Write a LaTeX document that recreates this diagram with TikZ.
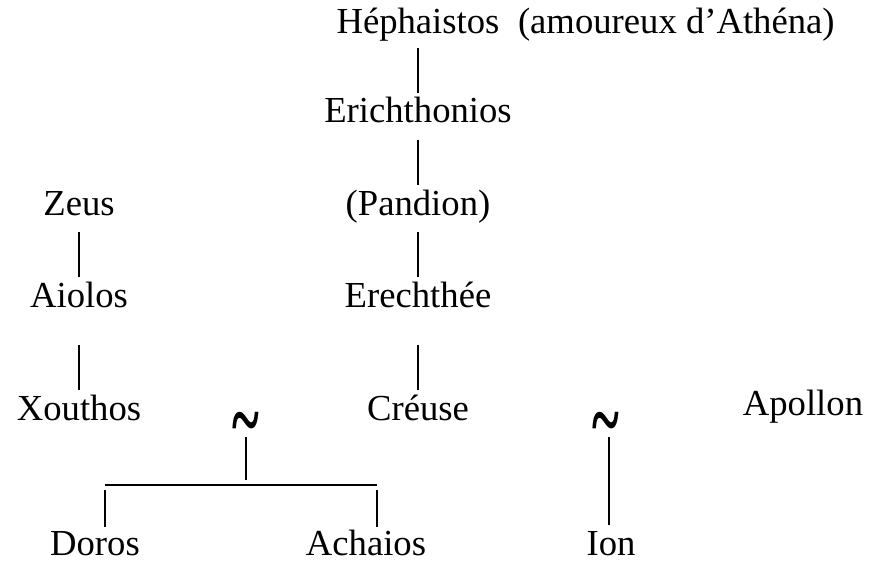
\documentclass[tikz,border=0pt]{standalone}
\usepackage{fontspec}
\setmainfont{Liberation Serif}
\usetikzlibrary{positioning}

\tikzstyle{every node}=[font=\fontsize{27.5pt}{33pt}\selectfont]
\tikzstyle{nom}=[inner sep=0pt, anchor=base, text height=18.5pt, text depth=6.5pt]
\tikzstyle{tilde}=[inner sep=0pt, anchor=center, font=\fontsize{27.5pt}{33pt}\selectfont\bfseries]
\tikzstyle{lien}=[line width=1.9pt]

\newcommand{\lien}{\scalebox{1.4}[2.4]{\textasciitilde}}

\begin{document}
\begin{tikzpicture}[x=0.75pt, y=-0.75pt]
	\useasboundingbox (0,0) rectangle (871,563);

	% Lignée d'Athènes
	\node[nom] (heph) at (418,34) {Héphaistos};
	\node[nom, right=13.5pt of heph] (amour) {(amoureux d’Athéna)};
	\node[nom] (erich) at (418,123) {Erichthonios};
	\node[nom] (pandion) at (418,215) {(Pandion)};
	\node[nom] (erech) at (418,307) {Erechthée};
	\node[nom] (creuse) at (418,420) {Créuse};

	% Lignée de Zeus
	\node[nom] (zeus) at (79,215) {Zeus};
	\node[nom] (aiolos) at (79,307) {Aiolos};
	\node[nom] (xouthos) at (79,420) {Xouthos};

	\node[nom] (apollon) at (803,415) {Apollon};

	% Unions
	\node[tilde] (union1) at (246,431) {\lien};
	\node[tilde] (union2) at (606,431) {\lien};

	% Enfants
	\node[nom] (doros) at (95,555) {Doros};
	\node[nom] (achaios) at (366,555) {Achaios};
	\node[nom] (ion) at (611,555) {Ion};

	\coordinate (barM) at (246,485);
	\coordinate (barL) at (105,485);
	\coordinate (barR) at (377,485);
	\coordinate (ionM) at (609,485);

	% Traits
	\draw[lien, shorten <=3.75pt, shorten >=3.75pt] (heph) -- (erich);
	\draw[lien, shorten <=6pt, shorten >=3.75pt] (erich) -- (pandion);
	\draw[lien, shorten <=6pt, shorten >=3.75pt] (pandion) -- (erech);
	\draw[lien, shorten <=21.75pt, shorten >=3.75pt] (erech) -- (creuse);
	\draw[lien, shorten <=6pt, shorten >=3.75pt] (zeus) -- (aiolos);
	\draw[lien, shorten <=21.75pt, shorten >=3.75pt] (aiolos) -- (xouthos);

	\draw[lien] (union1.center) ++(0,6) -- ([yshift=3.75pt]barM);
	\draw[lien] (barL) -- (barR);
	\draw[lien, shorten <=3.75pt, shorten >=2.25pt] (barL) -- (doros.north -| barL);
	\draw[lien, shorten <=3.75pt, shorten >=2.25pt] (barR) -- (achaios.north -| barR);
	\draw[lien] (union2.center -| ionM) ++(0,6) -- ([yshift=3.75pt]ion.north -| ionM);
\end{tikzpicture}
\end{document}
